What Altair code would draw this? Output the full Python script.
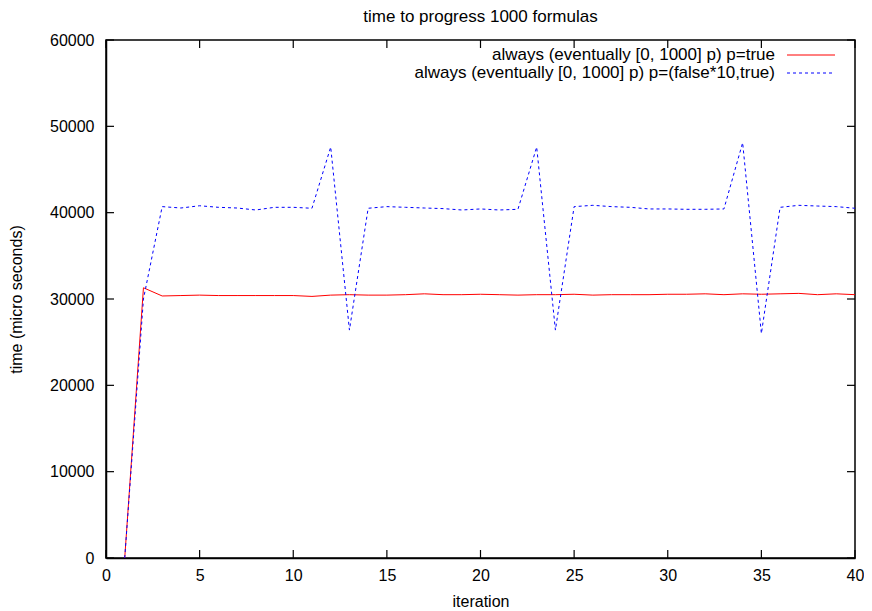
import altair as alt
import pandas as pd

iterations = list(range(1, 41))

always_true = [0, 31300, 30350, 30400, 30450, 30400, 30400, 30400, 30400, 30400,
               30300, 30450, 30500, 30450, 30450, 30500, 30600, 30500, 30500, 30550,
               30500, 30450, 30500, 30500, 30550, 30450, 30500, 30500, 30500, 30550,
               30550, 30600, 30500, 30600, 30550, 30600, 30650, 30500, 30600, 30500]

always_false10 = [0, 30000, 40700, 40540, 40800, 40620, 40540, 40310, 40620, 40620,
                  40510, 47600, 26400, 40510, 40700, 40620, 40540, 40470, 40310, 40430,
                  40310, 40390, 47600, 26400, 40700, 40850, 40700, 40620, 40430, 40430,
                  40390, 40390, 40430, 48100, 26000, 40620, 40850, 40770, 40700, 40510]

x_ticks = [0, 5, 10, 15, 20, 25, 30, 35, 40]
y_ticks = [0, 10000, 20000, 30000, 40000, 50000, 60000]

label_true = "always (eventually [0, 1000] p) p=true"
label_false = "always (eventually [0, 1000] p) p=(false*10,true)"

W, H = 749, 518
FONT = "Liberation Sans"
FS = 16
FS_LEG = 17

xs = alt.Scale(domain=[0, 40], nice=False, zero=False)
ys = alt.Scale(domain=[0, 60000], nice=False)

df_true = pd.DataFrame({"iteration": iterations, "time": always_true})
df_false = pd.DataFrame({"iteration": iterations, "time": always_false10})
df_xt = pd.DataFrame({"t": x_ticks})
df_yt = pd.DataFrame({"t": y_ticks})

x_axis = alt.Axis(values=x_ticks, tickSize=0, labelPadding=9, grid=False,
                  title="iteration", titlePadding=10, labelFlush=False)
y_axis = alt.Axis(values=y_ticks, tickSize=0, labelPadding=12, grid=False,
                  title="time (micro seconds)", titlePadding=25, format="d")

line_true = alt.Chart(df_true).mark_line(color="#ff0000", strokeWidth=1).encode(
    x=alt.X("iteration:Q", scale=xs, axis=x_axis),
    y=alt.Y("time:Q", scale=ys, axis=y_axis),
)
line_false = alt.Chart(df_false).mark_line(color="#0000ff", strokeWidth=1, strokeDash=[3, 3]).encode(
    x=alt.X("iteration:Q", scale=xs),
    y=alt.Y("time:Q", scale=ys),
)

tick_style = dict(color="black", strokeWidth=1.2)
xt_bottom = alt.Chart(df_xt).mark_rule(**tick_style).encode(
    x=alt.X("t:Q", scale=xs), y=alt.value(H), y2=alt.value(H - 8))
xt_top = alt.Chart(df_xt).mark_rule(**tick_style).encode(
    x=alt.X("t:Q", scale=xs), y=alt.value(0), y2=alt.value(8))
yt_left = alt.Chart(df_yt).mark_rule(**tick_style).encode(
    y=alt.Y("t:Q", scale=ys), x=alt.value(0), x2=alt.value(8))
yt_right = alt.Chart(df_yt).mark_rule(**tick_style).encode(
    y=alt.Y("t:Q", scale=ys), x=alt.value(W), x2=alt.value(W - 8))

df_leg1 = pd.DataFrame({"label": [label_true]})
df_leg2 = pd.DataFrame({"label": [label_false]})
leg_text1 = alt.Chart(df_leg1).mark_text(align="right", baseline="middle", font=FONT,
                                         fontSize=FS_LEG, color="black").encode(
    text="label:N", x=alt.value(669), y=alt.value(15))
leg_text2 = alt.Chart(df_leg2).mark_text(align="right", baseline="middle", font=FONT,
                                         fontSize=FS_LEG, color="black").encode(
    text="label:N", x=alt.value(669), y=alt.value(33))
leg_line1 = alt.Chart(df_leg1).mark_rule(color="#ff0000", strokeWidth=1).encode(
    x=alt.value(681), x2=alt.value(729), y=alt.value(15))
leg_line2 = alt.Chart(df_leg2).mark_rule(color="#0000ff", strokeWidth=1, strokeDash=[3, 3]).encode(
    x=alt.value(681), x2=alt.value(729), y=alt.value(33))

chart = alt.layer(
    line_true, line_false, xt_bottom, xt_top, yt_left, yt_right,
    leg_text1, leg_text2, leg_line1, leg_line2,
).properties(
    width=W, height=H,
    title=alt.TitleParams("time to progress 1000 formulas", font=FONT, fontSize=FS_LEG,
                          fontWeight="normal", color="black", offset=6),
    autosize=alt.AutoSizeParams(type="none"),
    padding={"left": 98, "top": 32, "right": 9, "bottom": 70},
).configure_view(
    stroke="black", strokeWidth=1.5
).configure_axis(
    labelFont=FONT, labelFontSize=FS, labelColor="black",
    titleFont=FONT, titleFontSize=FS, titleColor="black", titleFontWeight="normal",
    domainColor="black", domainWidth=1.5,
)

chart.save("out.html", embed_options={"renderer": "svg", "actions": False})
